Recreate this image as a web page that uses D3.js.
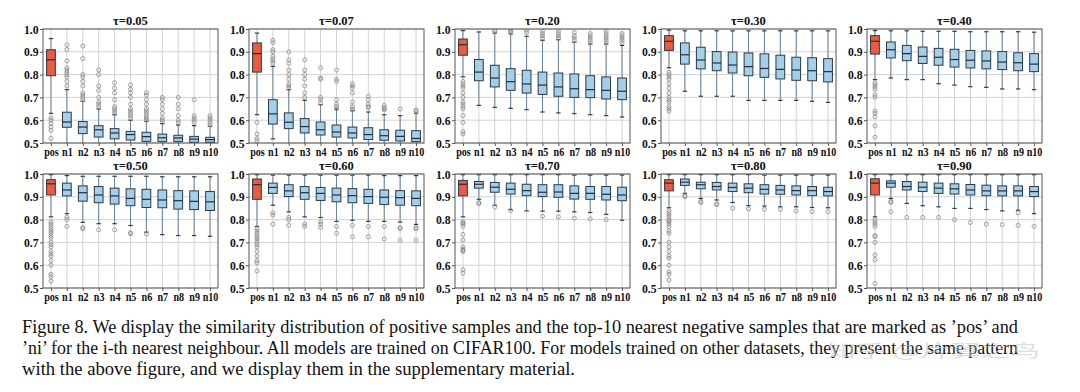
<!DOCTYPE html>
<html>
<head>
<meta charset="utf-8">
<script src="https://cdn.jsdelivr.net/npm/d3@7"></script>
<style>
html,body{margin:0;padding:0;background:#fff;}
svg{display:block;}
</style>
</head>
<body>
<svg id="chart" width="1080" height="392"></svg>
<script>
const categories = ["pos","n1","n2","n3","n4","n5","n6","n7","n8","n9","n10"];
const taus = ["0.05","0.07","0.20","0.30","0.40","0.50","0.60","0.70","0.80","0.90"];
const yTicks = [0.5,0.6,0.7,0.8,0.9,1.0];

const whiskerLow = [
  [0.63,0.47,0.47,0.47,0.47,0.47,0.47,0.47,0.47,0.47,0.47],
  [0.624,0.518,0.47,0.47,0.47,0.47,0.47,0.47,0.47,0.47,0.47],
  [0.79,0.665,0.656,0.652,0.646,0.636,0.632,0.629,0.624,0.620,0.614],
  [0.83,0.727,0.705,0.705,0.705,0.687,0.687,0.687,0.687,0.683,0.678],
  [0.778,0.785,0.778,0.778,0.760,0.754,0.747,0.744,0.737,0.737,0.734],
  [0.812,0.826,0.788,0.782,0.782,0.774,0.745,0.734,0.730,0.730,0.727],
  [0.770,0.863,0.834,0.812,0.809,0.792,0.797,0.792,0.792,0.789,0.779],
  [0.812,0.889,0.863,0.844,0.838,0.837,0.837,0.834,0.831,0.823,0.797],
  [0.852,0.915,0.893,0.886,0.875,0.861,0.859,0.856,0.856,0.853,0.852],
  [0.812,0.893,0.871,0.861,0.856,0.849,0.849,0.844,0.838,0.841,0.826]
];
const quartile1 = [
  [0.795,0.569,0.541,0.526,0.518,0.513,0.507,0.506,0.506,0.503,0.503],
  [0.811,0.583,0.563,0.544,0.535,0.526,0.522,0.515,0.512,0.509,0.506],
  [0.885,0.773,0.746,0.731,0.719,0.713,0.705,0.700,0.699,0.693,0.690],
  [0.906,0.846,0.825,0.817,0.807,0.795,0.788,0.781,0.775,0.773,0.768],
  [0.890,0.873,0.861,0.849,0.841,0.833,0.829,0.825,0.822,0.817,0.813],
  [0.908,0.904,0.881,0.874,0.868,0.861,0.853,0.852,0.846,0.844,0.840],
  [0.889,0.915,0.901,0.889,0.884,0.878,0.874,0.871,0.866,0.863,0.861],
  [0.904,0.938,0.920,0.912,0.905,0.901,0.898,0.890,0.889,0.886,0.883],
  [0.926,0.950,0.935,0.930,0.923,0.918,0.912,0.911,0.908,0.905,0.904],
  [0.908,0.942,0.930,0.923,0.915,0.912,0.908,0.905,0.904,0.904,0.901]
];
const medians = [
  [0.865,0.592,0.570,0.558,0.544,0.537,0.528,0.523,0.522,0.517,0.515],
  [0.892,0.628,0.591,0.572,0.558,0.548,0.544,0.537,0.532,0.529,0.520],
  [0.931,0.811,0.785,0.769,0.759,0.754,0.746,0.738,0.734,0.731,0.727],
  [0.946,0.887,0.864,0.851,0.842,0.835,0.827,0.823,0.820,0.817,0.813],
  [0.946,0.909,0.892,0.880,0.876,0.866,0.863,0.860,0.855,0.852,0.846],
  [0.957,0.930,0.918,0.908,0.904,0.893,0.889,0.886,0.883,0.880,0.878],
  [0.953,0.941,0.926,0.918,0.915,0.908,0.905,0.901,0.898,0.896,0.893],
  [0.955,0.955,0.942,0.933,0.927,0.920,0.921,0.915,0.915,0.911,0.908],
  [0.960,0.964,0.953,0.945,0.941,0.938,0.933,0.930,0.927,0.927,0.923],
  [0.960,0.960,0.945,0.942,0.938,0.935,0.930,0.926,0.926,0.926,0.923]
];
const quartile3 = [
  [0.909,0.635,0.594,0.576,0.563,0.551,0.547,0.539,0.534,0.529,0.525],
  [0.939,0.690,0.632,0.607,0.592,0.579,0.570,0.567,0.558,0.556,0.554],
  [0.956,0.866,0.841,0.826,0.819,0.811,0.807,0.803,0.795,0.790,0.785],
  [0.971,0.939,0.920,0.901,0.899,0.895,0.891,0.885,0.876,0.874,0.870],
  [0.971,0.943,0.928,0.921,0.915,0.911,0.906,0.904,0.901,0.896,0.892],
  [0.975,0.960,0.948,0.945,0.938,0.935,0.933,0.930,0.927,0.926,0.923],
  [0.978,0.960,0.953,0.945,0.941,0.938,0.936,0.933,0.930,0.927,0.926],
  [0.972,0.967,0.963,0.960,0.955,0.953,0.953,0.948,0.945,0.945,0.942],
  [0.975,0.978,0.964,0.963,0.960,0.957,0.953,0.950,0.948,0.945,0.942],
  [0.979,0.970,0.967,0.964,0.960,0.957,0.954,0.951,0.948,0.948,0.945]
];
const whiskerHigh = [
  [0.958,0.734,0.683,0.649,0.624,0.600,0.595,0.585,0.579,0.576,0.573],
  [0.982,0.836,0.734,0.687,0.668,0.649,0.642,0.636,0.624,0.620,0.631],
  [0.993,0.987,0.982,0.978,0.968,0.950,0.953,0.942,0.934,0.934,0.928],
  [0.995,0.992,0.992,0.992,0.992,0.992,0.992,0.992,0.992,0.992,0.992],
  [0.993,0.992,0.992,0.990,0.990,0.990,0.988,0.988,0.988,0.988,0.986],
  [0.997,0.993,0.990,0.990,0.990,0.990,0.990,0.988,0.988,0.988,0.988],
  [0.997,0.995,0.995,0.995,0.995,0.995,0.995,0.995,0.993,0.993,0.993],
  [0.997,0.997,0.997,0.997,0.997,0.997,0.997,0.995,0.995,0.995,0.995],
  [0.997,0.997,0.997,0.997,0.997,0.997,0.995,0.995,0.995,0.995,0.995],
  [0.997,0.997,0.997,0.997,0.997,0.997,0.997,0.997,0.997,0.997,0.997]
];
const outliers = [
  [[0.61,0.60,0.585,0.57,0.555,0.52],[0.75,0.77,0.79,0.80,0.81,0.82,0.83,0.86,0.91,0.93],[0.69,0.70,0.71,0.72,0.75,0.77,0.79,0.80,0.87,0.925],[0.66,0.67,0.68,0.70,0.73,0.75,0.80,0.82],[0.63,0.64,0.65,0.66,0.69,0.72,0.74,0.765],[0.61,0.62,0.63,0.64,0.65,0.67,0.70,0.72,0.735,0.755],[0.60,0.61,0.62,0.63,0.64,0.65,0.67,0.69,0.71,0.72],[0.59,0.60,0.61,0.63,0.65,0.67,0.69,0.70],[0.59,0.60,0.62,0.65,0.67,0.70],[0.59,0.60,0.61,0.62,0.69],[0.58,0.59,0.60,0.61,0.62]],
  [[0.59,0.54,0.52,0.51],[0.85,0.86,0.87,0.88,0.90,0.91,0.94,0.95],[0.74,0.75,0.76,0.78,0.80,0.82,0.85,0.865,0.90],[0.70,0.72,0.75,0.78,0.80,0.82,0.865],[0.675,0.69,0.70,0.78,0.785,0.83],[0.65,0.66,0.67,0.69,0.77,0.78,0.82],[0.645,0.65,0.66,0.68,0.72,0.74,0.75,0.76],[0.655,0.66,0.67,0.69,0.705],[0.645,0.65,0.655,0.665],[0.65],[0.64,0.645]],
  [[0.77,0.76,0.75,0.74,0.72,0.70,0.68,0.67,0.66,0.65,0.62,0.59,0.55,0.54],[],[0.99,0.995],[0.985,0.99,0.995],[0.985,0.995],[0.96,0.97,0.98,0.99],[0.96,0.97,0.98,0.99],[0.95,0.96,0.97,0.985],[0.94,0.95,0.96,0.97,0.98],[0.94,0.95,0.96,0.97,0.98,0.99],[0.94,0.95,0.96,0.97,0.98]],
  [[0.81,0.80,0.79,0.78,0.76,0.74,0.72,0.70,0.69,0.68,0.66,0.65,0.64],[],[],[],[],[],[],[],[],[],[]],
  [[0.765,0.755,0.745,0.735,0.71,0.70,0.64,0.63,0.615,0.575,0.525],[],[],[],[],[],[],[],[],[],[]],
  [[0.79,0.78,0.77,0.76,0.75,0.74,0.73,0.72,0.70,0.69,0.68,0.66,0.65,0.64,0.62,0.60,0.56,0.55,0.53],[0.81,0.80,0.77],[0.765,0.76],[0.755],[0.755],[0.742,0.738],[0.737],[],[],[],[]],
  [[0.76,0.75,0.74,0.73,0.72,0.71,0.70,0.69,0.68,0.66,0.64,0.62,0.61,0.575],[0.83,0.82,0.78],[0.81,0.80,0.775],[0.78,0.77],[0.79,0.78,0.765],[0.77,0.74],[0.775,0.725],[0.77,0.725],[0.77,0.715],[0.765,0.76,0.71],[0.765,0.76,0.71]],
  [[0.79,0.785,0.78,0.77,0.735,0.71,0.68,0.67,0.665,0.66,0.58,0.565],[0.875,0.87],[0.855],[0.84],[],[0.815],[0.812],[0.806],[0.803],[0.80],[]],
  [[0.84,0.83,0.82,0.81,0.80,0.795,0.79,0.78,0.77,0.75,0.74,0.70,0.68,0.66,0.64,0.63,0.60,0.57,0.56,0.535],[0.905,0.90],[0.88,0.875],[0.87,0.865],[0.85],[0.847],[0.845],[0.845],[0.838],[0.835],[0.835]],
  [[0.80,0.79,0.78,0.77,0.73,0.725,0.70,0.645,0.625,0.52],[0.88,0.875,0.835],[0.81],[0.81],[0.81],[0.80],[0.787],[0.78],[0.778],[0.83,0.775],[0.77]]
];
const captionLines = [
  "Figure 8. We display the similarity distribution of positive samples and the top-10 nearest negative samples that are marked as \u2019pos\u2019 and",
  "\u2019ni\u2019 for the i-th nearest neighbour. All models are trained on CIFAR100. For models trained on other datasets, they present the same pattern",
  "with the above figure, and we display them in the supplementary material."
];
const watermark = "知乎 @片翼之鸟";

const svg = d3.select("#chart");
const serif = "'Liberation Serif','Times New Roman',serif";
const colLeft = [43, 249, 455, 661, 867];
const rowTop = [29, 174];
const pw = 175, ph = 114;
const boxW = 0.55;

taus.forEach((tau, p) => {
  const left = colLeft[p % 5], top = rowTop[Math.floor(p / 5)];
  const x = d3.scaleLinear().domain([0.5, 11.5]).range([left, left + pw]);
  const y = d3.scaleLinear().domain([0.5, 1.0]).range([top + ph, top]);
  const g = svg.append("g");
  const clipId = "clip" + p;
  svg.append("clipPath").attr("id", clipId).append("rect")
    .attr("x", left).attr("y", top).attr("width", pw).attr("height", ph);

  g.append("g").selectAll("line").data(yTicks).join("line")
    .attr("x1", left).attr("x2", left + pw)
    .attr("y1", d => y(d)).attr("y2", d => y(d))
    .attr("stroke", "#d3d3d3").attr("stroke-width", 1);
  g.append("g").selectAll("line").data(categories).join("line")
    .attr("x1", (d, i) => x(i + 1)).attr("x2", (d, i) => x(i + 1))
    .attr("y1", top).attr("y2", top + ph)
    .attr("stroke", "#d3d3d3").attr("stroke-width", 1);

  const marks = g.append("g").attr("clip-path", `url(#${clipId})`);
  categories.forEach((c, i) => {
    const cx = x(i + 1);
    const half = (x(1 + boxW / 2) - x(1));
    const capHalf = half / 2;
    const lo = whiskerLow[p][i], hi = whiskerHigh[p][i];
    const q1 = quartile1[p][i], q3 = quartile3[p][i], md = medians[p][i];
    marks.append("line").attr("x1", cx).attr("x2", cx).attr("y1", y(q3)).attr("y2", y(hi))
      .attr("stroke", "#6a8298").attr("stroke-width", 1);
    marks.append("line").attr("x1", cx).attr("x2", cx).attr("y1", y(q1)).attr("y2", y(lo))
      .attr("stroke", "#6a8298").attr("stroke-width", 1);
    [lo, hi].forEach(v => {
      marks.append("line").attr("x1", cx - capHalf).attr("x2", cx + capHalf)
        .attr("y1", y(v)).attr("y2", y(v)).attr("stroke", "#2e3d4c").attr("stroke-width", 1.2);
    });
    marks.append("rect").attr("x", cx - half).attr("width", 2 * half)
      .attr("y", y(q3)).attr("height", y(q1) - y(q3))
      .attr("fill", i === 0 ? "#ec5a3f" : "#a5cfe8")
      .attr("stroke", "#2b3947").attr("stroke-width", 1);
    marks.append("line").attr("x1", cx - half).attr("x2", cx + half)
      .attr("y1", y(md)).attr("y2", y(md)).attr("stroke", "#1d2f44").attr("stroke-width", 1.2);
    marks.append("g").selectAll("circle").data(outliers[p][i]).join("circle")
      .attr("cx", cx).attr("cy", d => y(d)).attr("r", 2)
      .attr("fill", "none").attr("stroke", "#8a8a8a").attr("stroke-width", 0.8);
  });

  g.append("rect").attr("x", left).attr("y", top).attr("width", pw).attr("height", ph)
    .attr("fill", "none").attr("stroke", "#555").attr("stroke-width", 1);

  const yAxis = d3.axisLeft(y).tickValues(yTicks).tickFormat(d3.format(".1f")).tickSize(3).tickPadding(2);
  const ya = g.append("g").attr("transform", `translate(${left},0)`).call(yAxis);
  const xAxis = d3.axisBottom(x).tickValues(d3.range(1, 12)).tickFormat(d => categories[d - 1]).tickSize(3).tickPadding(1);
  const xa = g.append("g").attr("transform", `translate(0,${top + ph})`).call(xAxis);
  [ya, xa].forEach(a => {
    a.select(".domain").remove();
    a.selectAll(".tick line").attr("stroke", "#555");
    a.selectAll("text").attr("font-family", serif).attr("font-weight", "bold")
      .attr("font-size", 13).attr("fill", "#111");
  });
  xa.selectAll("text").attr("transform", "scale(0.78,1)");
  ya.selectAll("text").attr("transform", "scale(0.9,1)");

  g.append("text").attr("x", left + pw / 2).attr("y", top - 4)
    .attr("text-anchor", "middle").attr("font-family", serif).attr("font-weight", "bold")
    .attr("font-size", 12.5).attr("fill", "#111").text("\u03c4=" + tau);
});

const capLens = [996, 996, 553];
captionLines.forEach((t, i) => {
  svg.append("text").attr("x", 22).attr("y", 333 + i * 21)
    .attr("font-family", serif).attr("font-size", 18).attr("fill", "#111")
    .attr("textLength", capLens[i]).attr("lengthAdjust", "spacingAndGlyphs").text(t);
});
svg.append("text").attr("x", 826).attr("y", 357)
  .attr("font-family", "'Noto Sans CJK SC',sans-serif").attr("font-size", 17)
  .attr("textLength", 214).attr("lengthAdjust", "spacingAndGlyphs")
  .attr("fill", "#c8c8c8").attr("fill-opacity", 0.6).text(watermark);
</script>
</body>
</html>
